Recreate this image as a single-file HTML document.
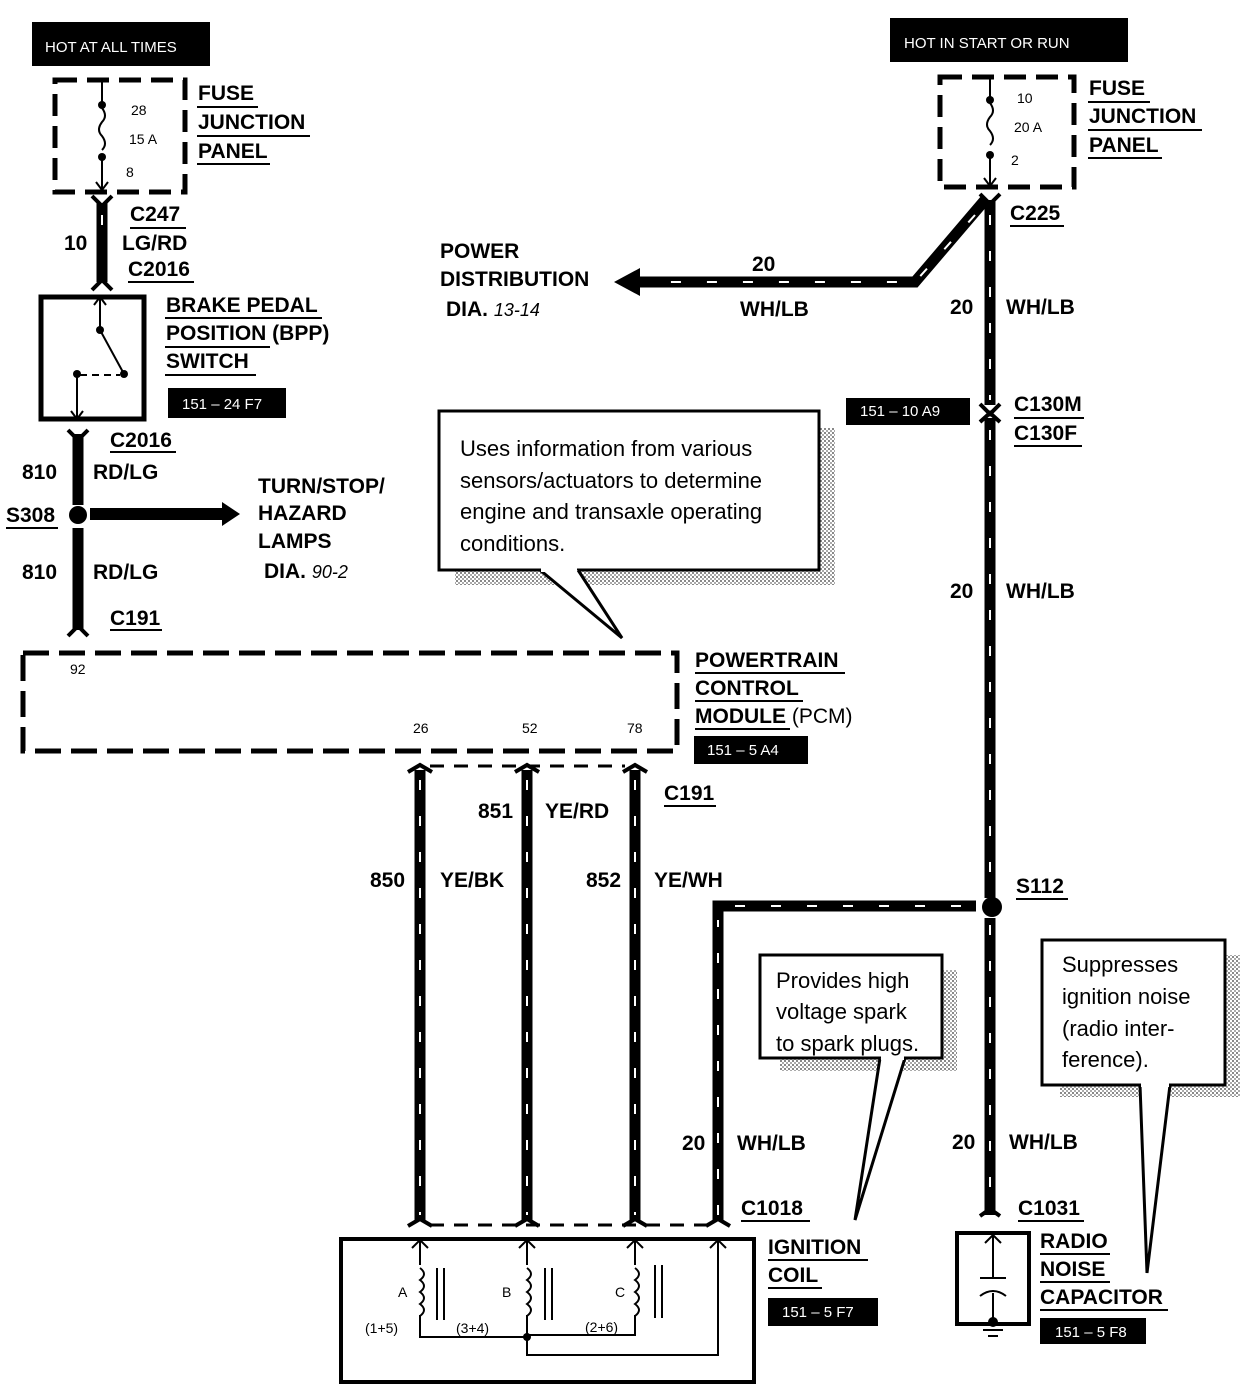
<!DOCTYPE html>
<html><head><meta charset="utf-8"><style>
html,body{margin:0;padding:0;background:#fff}
svg{display:block}
text{font-family:"Liberation Sans",Arial,sans-serif;fill:#000}
.b{font-weight:bold;font-size:21px}
.s{font-size:14px}
.w{fill:#fff;font-size:15px}
.c{font-size:22px}
</style></head><body>
<svg width="1248" height="1392" viewBox="0 0 1248 1392" xmlns="http://www.w3.org/2000/svg">
<defs>
<pattern id="sh" width="4" height="4" patternUnits="userSpaceOnUse"><rect width="4" height="4" fill="#fff"/><rect width="2" height="2" fill="#888"/><rect x="2" y="2" width="2" height="2" fill="#aaa"/></pattern>
</defs>
<g fill="none" stroke="#000">
<rect x="55" y="80" width="130" height="112" stroke-width="5" stroke-dasharray="22,10"/>
<path d="M102 80 V105 M102 157 V190 M96 182 l6 8 l6 -8" stroke-width="2"/>
<path d="M102 108 q6 8 0 14 q-6 8 0 14 q6 8 0 14" stroke-width="2"/>
<rect x="940" y="77" width="134" height="110" stroke-width="5" stroke-dasharray="22,10"/>
<path d="M990 77 V100 M990 155 V186 M984 178 l6 8 l6 -8" stroke-width="2"/>
<path d="M990 103 q6 8 0 14 q-6 8 0 14 q6 8 0 14" stroke-width="2"/>
<g stroke-width="11" stroke-linejoin="miter">
<path d="M102 203 V282"/>
<path d="M78 434 V505 M78 528 V630"/>
<path d="M90 514 H225" stroke-width="12"/>
<path d="M420 770 V1220 M527 770 V1220 M635 770 V1220"/>
<path d="M718 1220 V906 H976"/>
<path d="M990 200 V405 M990 418 V898 M990 918 V1215"/>
<path d="M985 200 L915 282 H635"/>
</g>
<g stroke="#fff" stroke-width="2" stroke-dasharray="10,26">
<path d="M420 780 V1215 M527 780 V1215 M635 780 V1215"/>
<path d="M718 1215 V920 M735 906 H970"/>
<path d="M990 215 V400 M990 430 V895 M990 925 V1210"/>
<path d="M975 215 L915 282 H650"/>
<path d="M102 215 V235"/>
</g>
<g stroke-width="4">
<path d="M92 196 l10 10 l10 -10 M92 290 l10 -10 l10 10"/>
<path d="M68 430 l10 10 l10 -10 M68 636 l10 -10 l10 10"/>
<path d="M980 194 l10 10 l10 -10 M980 404 l10 10 l10 -10 M980 422 l10 -9 l10 9"/>
<path d="M408 772 l12 -7 l12 7 M515 772 l12 -7 l12 7 M623 772 l12 -7 l12 7"/>
<path d="M408 1226 l12 -7 l12 7 M515 1226 l12 -7 l12 7 M623 1226 l12 -7 l12 7 M706 1226 l12 -7 l12 7 M980 1216 l10 -7 l10 7"/>
</g>
<path d="M430 766 H625 M430 1225 H708" stroke-width="3" stroke-dasharray="14,10"/>
<rect x="41" y="297" width="103" height="122" stroke-width="5"/>
<path d="M100 297 V330 L124 374 M100 297 l-6 8 M100 297 l6 8" stroke-width="2"/>
<path d="M77 374 V419 M77 419 l-6 -8 M77 419 l6 -8" stroke-width="2"/>
<path d="M80 375 H120" stroke-width="2" stroke-dasharray="7,5"/>
<rect x="23" y="653" width="654" height="98" stroke-width="5" stroke-dasharray="26,10"/>
<rect x="820" y="428" width="15" height="157" fill="url(#sh)" stroke="none"/>
<rect x="455" y="570" width="380" height="15" fill="url(#sh)" stroke="none"/>
<rect x="439" y="411" width="380" height="159" fill="#fff" stroke-width="3"/>
<path d="M540 570 L622 638 L578 570" fill="#fff" stroke-width="3"/>
<path d="M541 570 H577" stroke="#fff" stroke-width="4"/>
<rect x="943" y="970" width="14" height="100" fill="url(#sh)" stroke="none"/>
<rect x="780" y="1058" width="177" height="13" fill="url(#sh)" stroke="none"/>
<rect x="760" y="955" width="182" height="103" fill="#fff" stroke-width="3"/>
<path d="M880 1058 L855 1220 L905 1058" fill="#fff" stroke-width="3"/>
<path d="M881 1058 H904" stroke="#fff" stroke-width="4"/>
<rect x="1226" y="955" width="14" height="140" fill="url(#sh)" stroke="none"/>
<rect x="1060" y="1085" width="180" height="12" fill="url(#sh)" stroke="none"/>
<rect x="1042" y="940" width="183" height="145" fill="#fff" stroke-width="3"/>
<path d="M1140 1085 L1147 1273 L1170 1085" fill="#fff" stroke-width="3"/>
<path d="M1141 1085 H1169" stroke="#fff" stroke-width="4"/>
<rect x="341" y="1239" width="413" height="143" stroke-width="4"/>
<g stroke-width="2">
<path d="M420 1240 V1265 M420 1315 V1337 H527 M527 1240 V1265 M527 1315 V1355 H718 V1240 M635 1240 V1265 M635 1315 V1335 H527"/>
<path d="M420 1268 q8 6 0 12 q8 6 0 12 q8 6 0 12 q8 6 0 12"/>
<path d="M527 1268 q8 6 0 12 q8 6 0 12 q8 6 0 12 q8 6 0 12"/>
<path d="M635 1268 q8 6 0 12 q8 6 0 12 q8 6 0 12 q8 6 0 12"/>
<path d="M437 1268 V1320 M444 1268 V1320 M545 1268 V1320 M552 1268 V1320 M655 1265 V1318 M662 1265 V1318"/>
<path d="M412 1248 l8 -8 l8 8 M519 1248 l8 -8 l8 8 M627 1248 l8 -8 l8 8 M710 1248 l8 -8 l8 8"/>
</g>
<rect x="957" y="1233" width="72" height="91" stroke-width="4"/>
<g stroke-width="2">
<path d="M993 1235 V1278 M993 1293 V1322 M985 1243 l8 -8 l8 8 M980 1278 H1006 M980 1296 q13 -10 26 0"/>
<path d="M978 1324 H1008 M983 1330 H1003 M988 1336 H998"/>
</g>
</g>
<circle cx="102" cy="105" r="4"/><circle cx="102" cy="157" r="4"/>
<circle cx="990" cy="100" r="4"/><circle cx="990" cy="155" r="4"/>
<circle cx="100" cy="330" r="4"/><circle cx="124" cy="374" r="4"/><circle cx="77" cy="374" r="4"/>
<circle cx="78" cy="515" r="9"/>
<circle cx="992" cy="907" r="10"/>
<circle cx="527" cy="1337" r="4"/>
<circle cx="993" cy="1322" r="5"/>
<polygon points="240,514 222,502 222,526"/>
<polygon points="614,282 640,268 640,296"/>
<rect x="32" y="22" width="178" height="44"/><text x="45" y="52" class="w">HOT AT ALL TIMES</text>
<rect x="890" y="18" width="238" height="44"/><text x="904" y="48" class="w">HOT IN START OR RUN</text>
<rect x="168" y="388" width="118" height="30"/><text x="182" y="409" class="w">151 – 24 F7</text>
<rect x="846" y="398" width="124" height="27"/><text x="860" y="416" class="w">151 – 10 A9</text>
<rect x="694" y="736" width="114" height="28"/><text x="707" y="755" class="w">151 – 5 A4</text>
<rect x="768" y="1298" width="110" height="28"/><text x="782" y="1317" class="w">151 – 5 F7</text>
<rect x="1040" y="1318" width="106" height="26"/><text x="1055" y="1337" class="w">151 – 5 F8</text>
<g class="s">
<text x="131" y="115">28</text><text x="129" y="144">15 A</text><text x="126" y="177">8</text>
<text x="1017" y="103">10</text><text x="1014" y="132">20 A</text><text x="1011" y="165">2</text>
<text x="70" y="674">92</text><text x="413" y="733">26</text><text x="522" y="733">52</text><text x="627" y="733">78</text>
<text x="398" y="1297">A</text><text x="502" y="1297">B</text><text x="615" y="1297">C</text>
<text x="365" y="1333">(1+5)</text><text x="456" y="1333">(3+4)</text><text x="585" y="1332">(2+6)</text>
</g>
<g class="b">
<text x="198" y="100">FUSE</text><text x="198" y="129">JUNCTION</text><text x="198" y="158">PANEL</text>
<text x="1089" y="95">FUSE</text><text x="1089" y="123">JUNCTION</text><text x="1089" y="152">PANEL</text>
<text x="130" y="221">C247</text><text x="122" y="250">LG/RD</text><text x="128" y="276">C2016</text><text x="64" y="250">10</text>
<text x="166" y="312">BRAKE PEDAL</text><text x="166" y="340">POSITION (BPP)</text><text x="166" y="368">SWITCH</text>
<text x="110" y="447">C2016</text><text x="22" y="479">810</text><text x="93" y="479">RD/LG</text>
<text x="6" y="522">S308</text>
<text x="22" y="579">810</text><text x="93" y="579">RD/LG</text><text x="110" y="625">C191</text>
<text x="258" y="493">TURN/STOP/</text><text x="258" y="520">HAZARD</text><text x="258" y="548">LAMPS</text>
<text x="264" y="578">DIA. <tspan font-weight="normal" font-style="italic" font-size="18">90-2</tspan></text>
<text x="440" y="258">POWER</text><text x="440" y="286">DISTRIBUTION</text>
<text x="446" y="316">DIA. <tspan font-weight="normal" font-style="italic" font-size="18">13-14</tspan></text>
<text x="752" y="271">20</text><text x="740" y="316">WH/LB</text>
<text x="1010" y="220">C225</text><text x="950" y="314">20</text><text x="1006" y="314">WH/LB</text>
<text x="1014" y="411">C130M</text><text x="1014" y="440">C130F</text>
<text x="950" y="598">20</text><text x="1006" y="598">WH/LB</text>
<text x="695" y="667">POWERTRAIN</text><text x="695" y="695">CONTROL</text><text x="695" y="723">MODULE <tspan font-weight="normal">(PCM)</tspan></text>
<text x="664" y="800">C191</text>
<text x="478" y="818">851</text><text x="545" y="818">YE/RD</text>
<text x="370" y="887">850</text><text x="440" y="887">YE/BK</text>
<text x="586" y="887">852</text><text x="654" y="887">YE/WH</text>
<text x="1016" y="893">S112</text>
<text x="682" y="1150">20</text><text x="737" y="1150">WH/LB</text>
<text x="952" y="1149">20</text><text x="1009" y="1149">WH/LB</text>
<text x="741" y="1215">C1018</text><text x="1018" y="1215">C1031</text>
<text x="768" y="1254">IGNITION</text><text x="768" y="1282">COIL</text>
<text x="1040" y="1248">RADIO</text><text x="1040" y="1276">NOISE</text><text x="1040" y="1304">CAPACITOR</text>
</g>
<g stroke="#000" stroke-width="2">
<path d="M197 107 H258 M197 136 H310 M197 164 H270"/>
<path d="M1088 102 H1150 M1088 130 H1202 M1088 158 H1162"/>
<path d="M130 228 H186 M128 282 H194"/>
<path d="M165 318 H322 M165 347 H270 M165 375 H256"/>
<path d="M110 452 H176 M6 528 H58 M110 630 H162"/>
<path d="M1010 226 H1064 M1014 418 H1084 M1014 446 H1082"/>
<path d="M695 673 H845 M695 701 H803 M695 729 H790"/>
<path d="M664 806 H716 M1016 899 H1068 M741 1221 H810 M1018 1221 H1084"/>
<path d="M768 1260 H868 M768 1288 H822"/>
<path d="M1040 1254 H1110 M1040 1282 H1110 M1040 1310 H1168"/>
</g>
<g class="c">
<text x="460" y="456">Uses information from various</text>
<text x="460" y="488">sensors/actuators to determine</text>
<text x="460" y="519">engine and transaxle operating</text>
<text x="460" y="551">conditions.</text>
<text x="776" y="988">Provides high</text><text x="776" y="1019">voltage spark</text><text x="776" y="1051">to spark plugs.</text>
<text x="1062" y="972">Suppresses</text><text x="1062" y="1004">ignition noise</text><text x="1062" y="1036">(radio inter-</text><text x="1062" y="1067">ference).</text>
</g>
</svg>
</body></html>
